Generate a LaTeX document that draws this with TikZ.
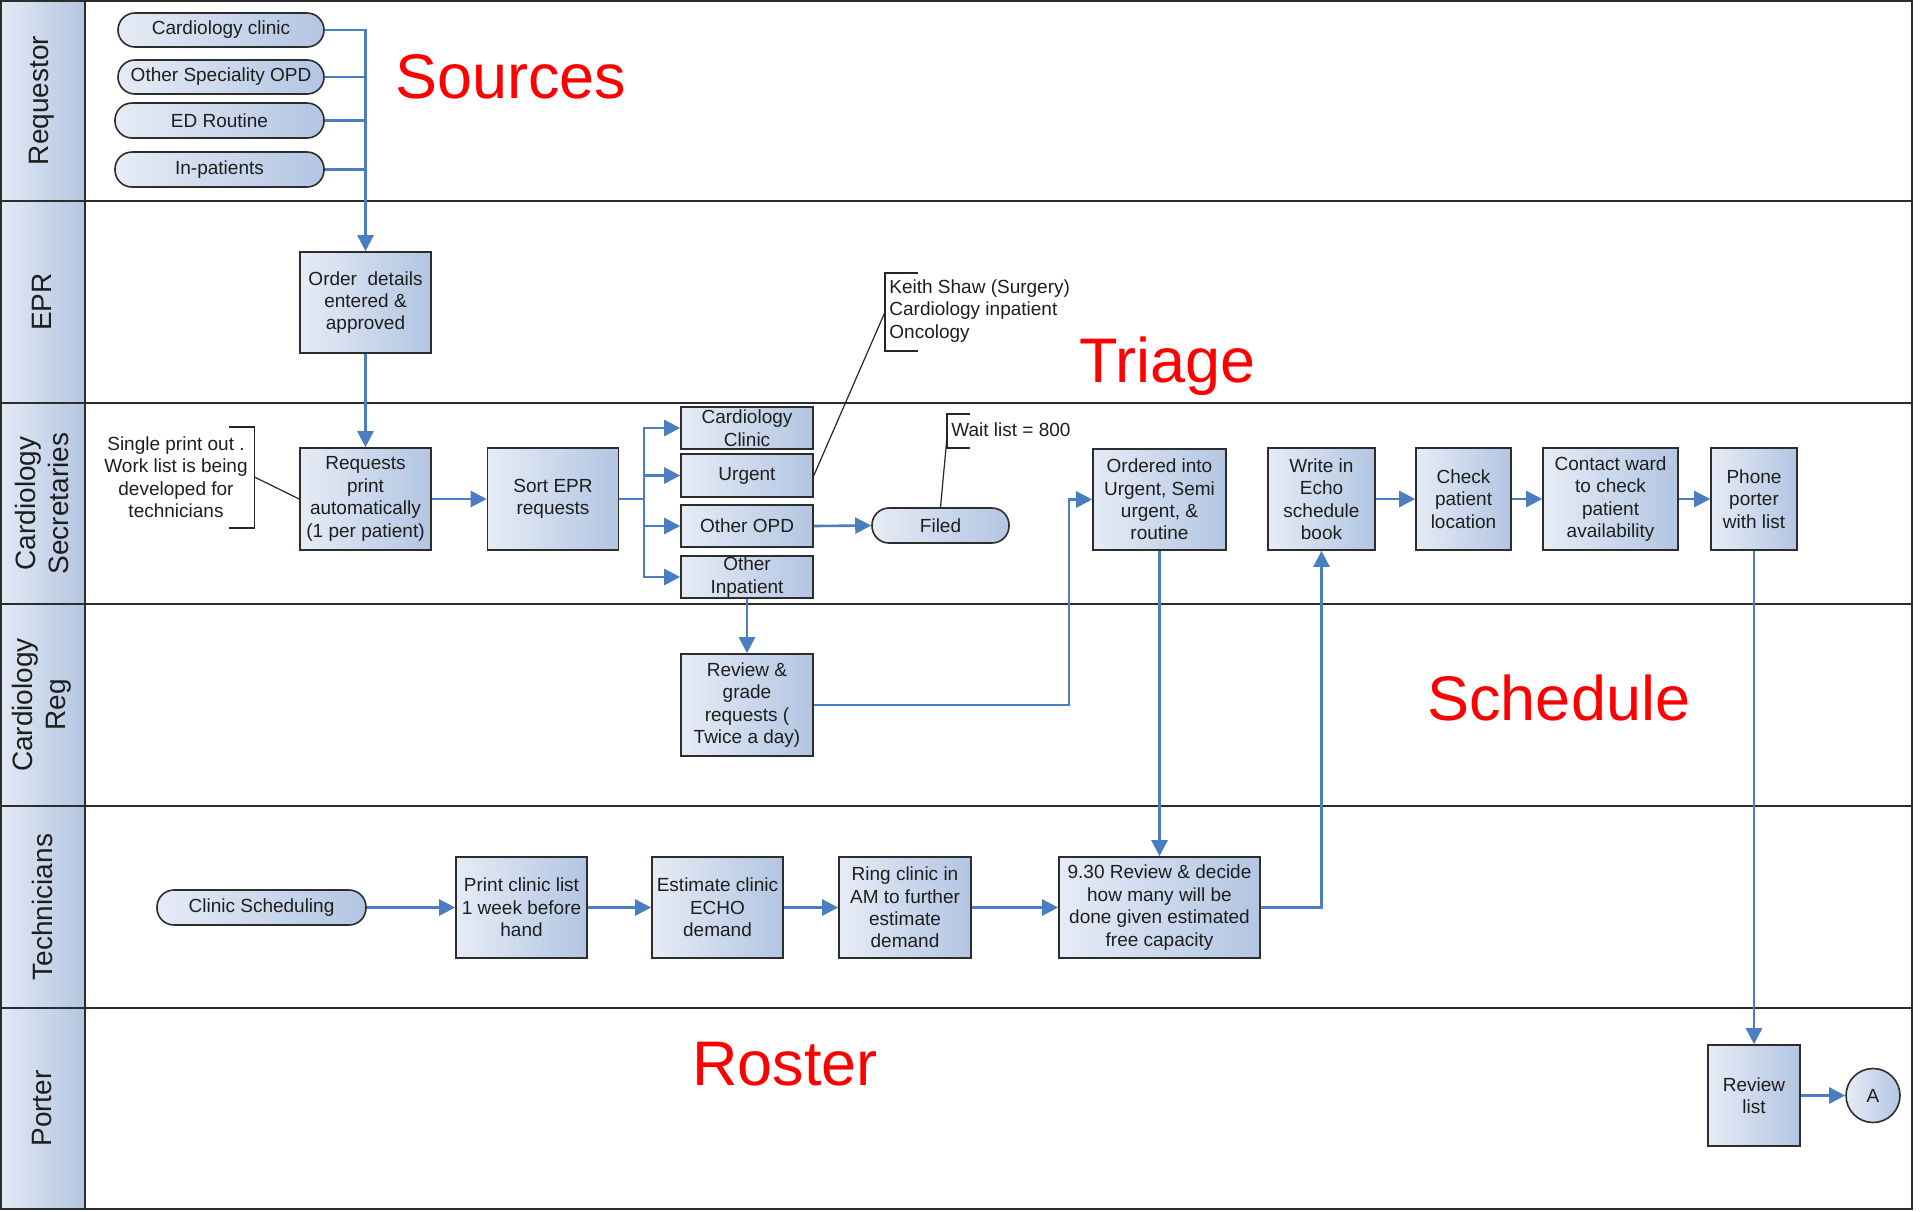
\documentclass[tikz,border=0pt]{standalone}
\usepackage{fontspec}
\setmainfont{Liberation Sans}
\usetikzlibrary{arrows.meta,calc}
\definecolor{conn}{RGB}{74,126,193}
\definecolor{boxlight}{RGB}{230,236,246}
\definecolor{boxdark}{RGB}{178,197,226}
\definecolor{hdlight}{RGB}{226,233,244}
\definecolor{hddark}{RGB}{180,198,226}
\definecolor{edge}{RGB}{45,45,45}
\definecolor{txt}{RGB}{30,30,30}
\newcommand{\boxfont}{\fontsize{9.5}{11.2}\selectfont}
\newcommand{\hdfont}{\fontsize{14}{16.5}\selectfont}
\newcommand{\redfont}{\fontsize{31.5}{36}\selectfont}
\begin{document}
\begin{tikzpicture}[x=0.5pt,y=-0.5pt,
  proc/.style={draw=edge, line width=0.8pt, left color=boxlight, right color=boxdark,
    inner sep=0pt, align=center, font=\boxfont, text=txt},
  term/.style={proc, rounded corners=8.5pt},
  conn/.style={draw=conn, line width=1.3pt},
  arr/.style={conn, -{Triangle[length=8pt,width=8pt]}},
  note/.style={font=\boxfont, text=txt, inner sep=0pt},
  noteline/.style={draw=black!85, line width=0.6pt},
  lanehd/.style={left color=hdlight, right color=hddark, draw=none},
  hdtext/.style={font=\hdfont, text=txt, rotate=90, align=center, inner sep=0pt},
  lane/.style={draw=edge, line width=1.3pt},
  redlbl/.style={font=\redfont, text=red, inner sep=0pt, anchor=base west}
]
\useasboundingbox (0,0) rectangle (1920,1211);
% lane headers
\path[lanehd] (0,0) rectangle (85,201);
\path[lanehd] (0,201) rectangle (85,403);
\path[lanehd] (0,403) rectangle (85,604);
\path[lanehd] (0,604) rectangle (85,806);
\path[lanehd] (0,806) rectangle (85,1008);
\path[lanehd] (0,1008) rectangle (85,1209);
\node[hdtext] (h1) at (42,100.5) {Requestor};
\node[hdtext] (h2) at (42,302) {EPR};
\node[hdtext] (h3) at (42,503.5) {Cardiology\\Secretaries};
\node[hdtext] (h4) at (42,705) {Cardiology\\Reg};
\node[hdtext] (h5) at (42,907) {Technicians};
\node[hdtext] (h6) at (42,1108.5) {Porter};
% lane lines
\draw[lane] (1,1) rectangle (1912,1209);
\draw[lane] (85,1) -- (85,1209);
\foreach \yy in {201,403,604,806,1008} \draw[lane] (1,\yy) -- (1912,\yy);
% red labels
\node[redlbl] (lsrc) at (395,98) {Sources};
\node[redlbl] (ltri) at (1079,382) {Triage};
\node[redlbl] (lsch) at (1427,720) {Schedule};
\node[redlbl] (lros) at (692,1085) {Roster};
% requestor
\node[term, minimum width=103pt, minimum height=17pt] (cc) at (221,30) {Cardiology clinic};
\node[term, minimum width=103pt, minimum height=17pt] (osopd) at (221,77) {Other Speciality OPD};
\node[term, minimum width=104.5pt, minimum height=17.5pt] (edr) at (219.5,120.5) {ED Routine};
\node[term, minimum width=104.5pt, minimum height=17.5pt] (inp) at (219.5,169.5) {In-patients};
% EPR
\node[proc, minimum width=65.5pt, minimum height=50.5pt] (order) at (365.5,302.5) {Order\ \ details\\entered \&\\approved};
% secretaries
\node[proc, minimum width=65.5pt, minimum height=51pt] (req) at (365.5,499) {Requests\\print\\automatically\\(1 per patient)};
\node[proc, minimum width=65.5pt, minimum height=51pt] (sort) at (553,499) {Sort EPR\\requests};
\node[proc, minimum width=66pt, minimum height=21pt] (cclin) at (747,428) {Cardiology\\Clinic};
\node[proc, minimum width=66pt, minimum height=21.5pt] (urg) at (747,475.5) {Urgent};
\node[proc, minimum width=66pt, minimum height=21pt] (oopd) at (747,526) {Other OPD};
\node[proc, minimum width=66pt, minimum height=21pt] (oinp) at (747,577) {Other\\Inpatient};
\node[term, minimum width=68.5pt, minimum height=17.5pt] (filed) at (940.5,525.5) {Filed};
\node[proc, minimum width=66.5pt, minimum height=50.5pt] (ordered) at (1159.5,499.5) {Ordered into\\Urgent, Semi\\urgent, \&\\routine};
\node[proc, minimum width=53.5pt, minimum height=51pt] (write) at (1321.5,499) {Write in\\Echo\\schedule\\book};
\node[proc, minimum width=47.5pt, minimum height=51pt] (check) at (1463.5,499) {Check\\patient\\location};
\node[proc, minimum width=67.5pt, minimum height=51pt] (contact) at (1610.5,499) {Contact ward\\to check\\patient\\availability};
\node[proc, minimum width=43pt, minimum height=51pt] (phone) at (1754,499) {Phone\\porter\\with list};
% notes
\node[note, align=center] (n1) at (176,477) {Single print out .\\Work list is being\\developed for\\technicians};
\node[note, align=left, anchor=west] (n2) at (889,311) {Keith Shaw (Surgery)\\Cardiology inpatient\\Oncology};
\node[note, anchor=west] (n3) at (951,430) {Wait list = 800};
% reg
\node[proc, minimum width=66pt, minimum height=51pt] (review) at (747,705) {Review \&\\grade\\requests (\\Twice a day)};
% technicians
\node[term, minimum width=104.5pt, minimum height=17.5pt] (csched) at (261.5,907.5) {Clinic Scheduling};
\node[proc, minimum width=65.5pt, minimum height=50.5pt] (print) at (521.5,907.5) {Print clinic list\\1 week before\\hand};
\node[proc, minimum width=65.5pt, minimum height=50.5pt] (estim) at (717.5,907.5) {Estimate clinic\\ECHO\\demand};
\node[proc, minimum width=66pt, minimum height=50.5pt] (ring) at (905,907.5) {Ring clinic in\\AM to further\\estimate\\demand};
\node[proc, minimum width=100.5pt, minimum height=50.5pt] (decide) at (1159.5,907.5) {9.30 Review \& decide\\how many will be\\done given estimated\\free capacity};
% porter
\node[proc, minimum width=46pt, minimum height=50.5pt] (revlist) at (1754,1095.5) {Review\\list};
\node[proc, circle, minimum size=27pt] (circA) at (1873,1095.5) {A};
% annotation brackets
\coordinate (b1t) at (229,427); \coordinate (b1b) at (229,528);
\draw[noteline] (b1t) -- (254.5,427) -- (254.5,528) -- (b1b);
\draw[noteline] (254.5,477) -- (req.west);
\draw[noteline] (918,273) -- (885,273) -- (885,351) -- (918,351);
\draw[noteline] (885,312) -- (urg.east);
\draw[noteline] (970,414) -- (947,414) -- (947,448) -- (970,448);
\draw[noteline] (947,437) -- (filed.north);
% connectors
\draw[arr] (cc.east) -| (order.north);
\draw[conn] (osopd.east) -- (osopd.east -| order.north);
\draw[conn] (edr.east) -- (edr.east -| order.north);
\draw[conn] (inp.east) -- (inp.east -| order.north);
\draw[arr] (order.south) -- (req.north);
\draw[arr] (req.east) -- (sort.west);
\coordinate (br) at (644,499);
\draw[conn] (sort.east) -- (br);
\draw[arr] (br) |- (cclin.west);
\draw[arr] (br) |- (urg.west);
\draw[arr] (br) |- (oopd.west);
\draw[arr] (br) |- (oinp.west);
\draw[arr] (oopd.east) -- (filed.west);
\draw[arr] (oinp.south) -- (review.north);
\coordinate (rturn) at (1069,705);
\draw[arr] (review.east) -- (rturn) |- (ordered.west);
\draw[arr] (ordered.south) -- (decide.north);
\draw[arr] (decide.east) -| (write.south);
\draw[arr] (write.east) -- (check.west);
\draw[arr] (check.east) -- (contact.west);
\draw[arr] (contact.east) -- (phone.west);
\draw[arr] (phone.south) -- (revlist.north);
\draw[arr] (revlist.east) -- (circA.west);
\draw[arr] (csched.east) -- (print.west);
\draw[arr] (print.east) -- (estim.west);
\draw[arr] (estim.east) -- (ring.west);
\draw[arr] (ring.east) -- (decide.west);
\end{tikzpicture}
\end{document}
